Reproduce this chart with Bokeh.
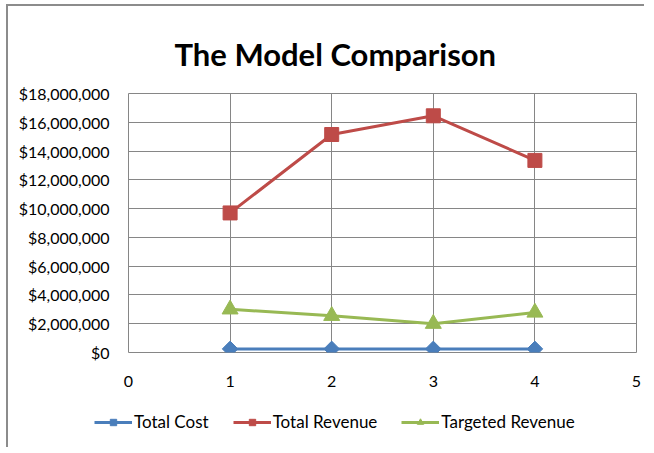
import math
from bokeh.plotting import figure
from bokeh.layouts import column
from bokeh.models import (Range1d, NumeralTickFormatter, FixedTicker, Legend, LegendItem, Title)
from bokeh.embed import file_html
from bokeh.resources import INLINE

x_vals = [1, 2, 3, 4]
total_cost = [250000, 250000, 250000, 250000]
total_revenue = [9700000, 15150000, 16450000, 13350000]
targeted_revenue = [3000000, 2550000, 2000000, 2780000]
y_ticks = [0, 2000000, 4000000, 6000000, 8000000, 10000000, 12000000, 14000000, 16000000, 18000000]
x_ticks = [0, 1, 2, 3, 4, 5]
series_names = ["Total Cost", "Total Revenue", "Targeted Revenue"]

FONT = "Lato"
blue, red, green = "#4A7EBB", "#BE4B48", "#98B954"

p = figure(frame_width=508, frame_height=259, output_backend="svg", toolbar_location=None,
           x_range=Range1d(0, 5), y_range=Range1d(0, 18000000),
           min_border_left=120, min_border_right=8, min_border_top=87, min_border_bottom=45)

p.title = Title(text="The Model Comparison", align="left", text_font=FONT,
                text_font_size="31px", text_font_style="bold", text_color="#000000",
                offset=46, standoff=42)

p.outline_line_color = "#868686"
p.outline_line_width = 1
for ax in (p.xaxis[0], p.yaxis[0]):
    ax.axis_line_color = None
    ax.major_tick_line_color = None
    ax.minor_tick_line_color = None
    ax.major_label_text_font = FONT
    ax.major_label_text_font_size = "16px"
    ax.major_label_text_color = "#000000"

p.yaxis[0].ticker = FixedTicker(ticks=y_ticks)
p.yaxis[0].formatter = NumeralTickFormatter(format="$0,0")
p.yaxis[0].major_label_standoff = 13
p.xaxis[0].ticker = FixedTicker(ticks=x_ticks)
p.xaxis[0].major_label_standoff = 17

p.xgrid[0].ticker = FixedTicker(ticks=x_ticks)
p.ygrid[0].ticker = FixedTicker(ticks=y_ticks)
p.xgrid.grid_line_color = "#868686"
p.ygrid.grid_line_color = "#868686"
p.xgrid.grid_line_width = 1
p.ygrid.grid_line_width = 1


def draw_series(fig, visible=True):
    r = []
    r.append(fig.line(x_vals, total_cost, line_color=blue, line_width=3, visible=visible))
    r.append(fig.scatter(x_vals, total_cost, marker="square", angle=math.pi / 4, size=11,
                         fill_color=blue, line_color=blue, visible=visible))
    r.append(fig.line(x_vals, total_revenue, line_color=red, line_width=3, visible=visible))
    r.append(fig.scatter(x_vals, total_revenue, marker="square", size=14,
                         fill_color=red, line_color=red, visible=visible))
    r.append(fig.line(x_vals, targeted_revenue, line_color=green, line_width=3, visible=visible))
    r.append(fig.scatter(x_vals, targeted_revenue, marker="triangle", size=16,
                         fill_color=green, line_color=green, visible=visible))
    return r


draw_series(p)

# legend strip below the chart
lg = figure(width=636, height=50, output_backend="svg", toolbar_location=None,
            x_range=Range1d(0, 5), y_range=Range1d(0, 18000000),
            x_axis_type=None, y_axis_type=None, min_border=0)
lg.outline_line_color = None
lg.grid.visible = False
try:
    lg.frame_align = False
    p.frame_align = False
    leg_x = 86
except AttributeError:
    leg_x = -34
rs = draw_series(lg, visible=False)

legend = Legend(items=[
    LegendItem(label=series_names[0], renderers=[rs[0], rs[1]]),
    LegendItem(label=series_names[1], renderers=[rs[2], rs[3]]),
    LegendItem(label=series_names[2], renderers=[rs[4], rs[5]]),
], orientation="horizontal", location=(leg_x, 15), border_line_color=None,
    background_fill_alpha=0, label_text_font=FONT, label_text_font_size="17px",
    label_text_color="#000000", glyph_width=38, glyph_height=16, label_standoff=2,
    spacing=24, padding=0, margin=0)
lg.add_layout(legend, "center")

layout = column(p, lg, spacing=0)
layout.styles = {"border-left": "2px solid #8c8c8c", "border-top": "2px solid #8c8c8c",
                 "margin-left": "6px", "margin-top": "4px"}

open("out.html", "w").write(file_html(layout, INLINE))
